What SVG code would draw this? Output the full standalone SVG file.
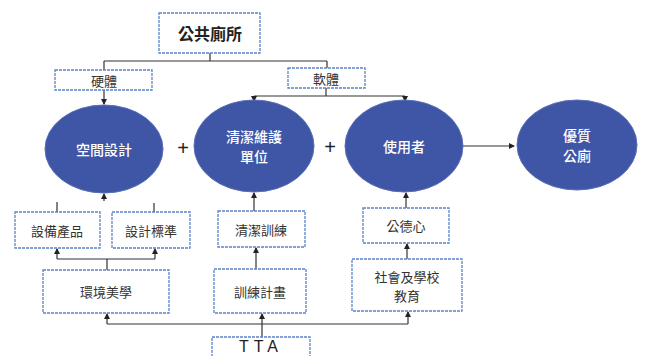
<svg xmlns="http://www.w3.org/2000/svg" width="646" height="356" viewBox="0 0 646 356">
<defs>
<marker id="ah" markerWidth="6" markerHeight="6" refX="5" refY="3" orient="auto" markerUnits="userSpaceOnUse">
<path d="M0,0 L6,3 L0,6 z" fill="#222"/>
</marker>
<style>
.box{fill:#fff;stroke:#5b82c8;stroke-width:1.3;stroke-dasharray:3,1}
.ell{fill:#3f56a6;stroke:#5a6fb8;stroke-width:1}
.t{font-family:"Noto Sans CJK TC","Noto Sans CJK SC",sans-serif;font-size:13px;fill:#333;text-anchor:middle;dominant-baseline:central}
.w{font-family:"Noto Sans CJK TC","Noto Sans CJK SC",sans-serif;font-size:14px;font-weight:500;fill:#fff;text-anchor:middle;dominant-baseline:central}
.c{fill:none;stroke:#333;stroke-width:1.2}
.a{fill:none;stroke:#333;stroke-width:1.2;marker-end:url(#ah)}
</style>
</defs>
<rect width="646" height="356" fill="#fff"/>
<g id="connectors">
<path class="c" d="M210,53 V61 M104,61 H327 M104,61 V70 M327,61 V68"/>
<path class="a" d="M104,90 V104"/>
<path class="c" d="M326,88 V96 M254,96 H405"/>
<path class="a" d="M254,96 V101"/>
<path class="a" d="M405,96 V101"/>
<path class="a" d="M463,146 H514"/>
<path class="c" d="M57,202 V212 M154,203 V212"/>
<path class="a" d="M104,201 V194"/>
<path class="c" d="M107,270 V259 M57,259 H155"/>
<path class="a" d="M57,259 V249"/>
<path class="a" d="M155,259 V249"/>
<path class="a" d="M254,211 V193"/>
<path class="a" d="M256,269 V248"/>
<path class="a" d="M406,208 V193"/>
<path class="a" d="M407,259 V244"/>
<path class="c" d="M107,324 H408"/>
<path class="a" d="M107,324 V314"/>
<path class="a" d="M408,324 V312"/>
<path class="a" d="M262,337 V314"/>
</g>
<g id="n-top"><rect class="box" x="159" y="13" width="101" height="40"/><text class="t" x="210" y="33" style="font-size:16px;font-weight:bold;fill:#222">公共廁所</text></g>
<g id="n-hard"><rect class="box" x="55" y="70" width="97" height="20"/><text class="t" x="104" y="80">硬體</text></g>
<g id="n-soft"><rect class="box" x="288" y="68" width="77" height="20"/><text class="t" x="326" y="78">軟體</text></g>
<g id="n-space"><ellipse class="ell" cx="104" cy="149" rx="59" ry="44"/><text class="w" x="104" y="149">空間設計</text></g>
<g id="n-clean"><ellipse class="ell" cx="254" cy="146" rx="60" ry="46"/><text class="w" x="254" y="136">清潔維護</text><text class="w" x="254" y="156">單位</text></g>
<g id="n-user"><ellipse class="ell" cx="404" cy="146" rx="59" ry="46"/><text class="w" x="404" y="146">使用者</text></g>
<g id="n-good"><ellipse class="ell" cx="577" cy="145" rx="60" ry="45"/><text class="w" x="577" y="135">優質</text><text class="w" x="577" y="155">公廁</text></g>
<g id="plus"><text x="183" y="148" style="font-family:'Liberation Sans',sans-serif;font-size:20px;fill:#222;text-anchor:middle;dominant-baseline:central">+</text><text x="330" y="147" style="font-family:'Liberation Sans',sans-serif;font-size:20px;fill:#222;text-anchor:middle;dominant-baseline:central">+</text></g>
<g id="n-equip"><rect class="box" x="15" y="212" width="85" height="36"/><text class="t" x="57" y="230">設備產品</text></g>
<g id="n-std"><rect class="box" x="112" y="212" width="78" height="36"/><text class="t" x="151" y="230">設計標準</text></g>
<g id="n-env"><rect class="box" x="43" y="270" width="126" height="43"/><text class="t" x="106" y="291">環境美學</text></g>
<g id="n-ctrain"><rect class="box" x="218" y="211" width="87" height="36"/><text class="t" x="261" y="229">清潔訓練</text></g>
<g id="n-plan"><rect class="box" x="214" y="269" width="92" height="44"/><text class="t" x="260" y="291">訓練計畫</text></g>
<g id="n-moral"><rect class="box" x="363" y="208" width="86" height="35"/><text class="t" x="406" y="225">公德心</text></g>
<g id="n-edu"><rect class="box" x="352" y="259" width="110" height="52"/><text class="t" x="407" y="276">社會及學校</text><text class="t" x="407" y="295">教育</text></g>
<g id="n-tta"><rect class="box" x="212" y="337" width="98" height="30"/><text x="261" y="352" style="font-family:'Liberation Sans',sans-serif;font-size:16px;fill:#222;text-anchor:middle;letter-spacing:5px">TTA</text></g>
</svg>
